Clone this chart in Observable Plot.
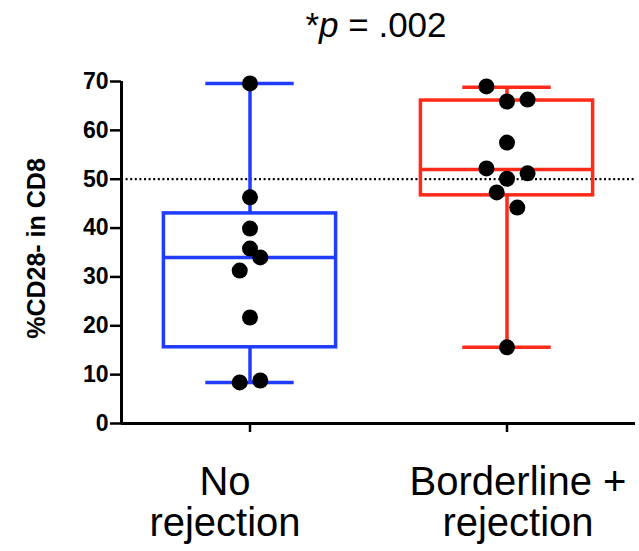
<!DOCTYPE html>
<html>
<head>
<meta charset="utf-8">
<script src="https://cdn.jsdelivr.net/npm/d3@7"></script>
<script src="https://cdn.jsdelivr.net/npm/@observablehq/plot@0.6"></script>
<style>
  html, body { margin: 0; padding: 0; background: #fff; }
  #title { width: 639px; height: 50px; line-height: 50px; font-family: "Liberation Sans", Arial, sans-serif; font-size: 35px; text-align: center; padding-left: 113px; box-sizing: border-box; color: #000; }
  svg text { font-family: "Liberation Sans", Arial, sans-serif; }
</style>
</head>
<body>
<div id="title">*<i>p</i> = .002</div>
<div id="chart"></div>
<script>
// Categories
const groups = ["No\nrejection", "Borderline +\nrejection"];
const groupColors = ["#1f3cff", "#ff2a1a"];

// Individual values and horizontal jitter offsets
const noRejectionValues = [69.6, 46.3, 39.9, 35.8, 34.0, 31.3, 21.7, 8.4, 8.8];
const noRejectionOffsets = [0, 0, 0, 0, 0.04, -0.04, 0, -0.04, 0.04];
const borderlineValues = [69.0, 65.9, 66.3, 57.5, 52.2, 51.2, 50.1, 47.3, 44.2, 15.6];
const borderlineOffsets = [-0.08, 0, 0.08, 0, -0.08, 0.08, 0, -0.04, 0.04, 0];

// Box summaries (min-max whiskers)
const mins = [8.4, 15.6];
const q1s = [15.6, 46.7];
const medians = [34.0, 52.0];
const q3s = [43.0, 66.1];
const maxs = [69.6, 68.8];

// Reference line and ticks
const threshold = 50;
const yTicks = [0, 10, 20, 30, 40, 50, 60, 70];
const xTicks = [0, 1];

const points = [
  ...noRejectionValues.map((v, i) => ({g: 0, x: 0 + noRejectionOffsets[i], y: v})),
  ...borderlineValues.map((v, i) => ({g: 1, x: 1 + borderlineOffsets[i], y: v}))
];
const boxes = groups.map((name, i) => ({
  i, name, color: groupColors[i],
  min: mins[i], q1: q1s[i], median: medians[i], q3: q3s[i], max: maxs[i]
}));

const boxHalf = 0.335, capHalf = 0.172;
const sw = 3.5;

const chart = Plot.plot({
  width: 639,
  height: 501,
  marginTop: 31,
  marginBottom: 128,
  marginLeft: 121,
  marginRight: 4,
  x: {type: "linear", domain: [-0.5, 1.5], axis: null},
  y: {type: "linear", domain: [0, 70], axis: null},
  marks: [
    // reference line
    Plot.ruleY([threshold], {x1: -0.5, x2: 1.5, stroke: "#000", strokeWidth: 2.2, strokeDasharray: "2,2.6"}),
    // whiskers
    Plot.ruleX(boxes, {x: "i", y1: "min", y2: "q1", stroke: "color", strokeWidth: sw}),
    Plot.ruleX(boxes, {x: "i", y1: "q3", y2: "max", stroke: "color", strokeWidth: sw}),
    // caps
    Plot.ruleY(boxes, {y: "min", x1: d => d.i - capHalf, x2: d => d.i + capHalf, stroke: "color", strokeWidth: sw}),
    Plot.ruleY(boxes, {y: "max", x1: d => d.i - capHalf, x2: d => d.i + capHalf, stroke: "color", strokeWidth: sw}),
    // boxes
    Plot.rect(boxes, {x1: d => d.i - boxHalf, x2: d => d.i + boxHalf, y1: "q1", y2: "q3", fill: "none", stroke: "color", strokeWidth: sw}),
    // medians
    Plot.ruleY(boxes, {y: "median", x1: d => d.i - boxHalf, x2: d => d.i + boxHalf, stroke: "color", strokeWidth: sw}),
    // points
    Plot.dot(points, {x: "x", y: "y", r: 8, fill: "#000", stroke: "none"}),
    // axes
    Plot.axisY({ticks: yTicks, tickSize: 11, tickPadding: 2, fontSize: 23, fontWeight: "bold", strokeWidth: 2.5, color: "#000"}),
    Plot.axisX({ticks: xTicks, tickSize: 9, tickFormat: () => "", strokeWidth: 2.5, color: "#000"}),
    Plot.ruleX([-0.5], {y1: 0, y2: 70, stroke: "#000", strokeWidth: 3}),
    Plot.ruleY([0], {x1: -0.5, x2: 1.5, stroke: "#000", strokeWidth: 3}),
    Plot.text([groups[0]], {x: 0, y: 0, dx: -25, dy: 42, lineAnchor: "top", fontSize: 40, lineHeight: 1.03, fill: "#000"}),
    Plot.text([groups[1]], {x: 1, y: 0, dx: 11, dy: 42, lineAnchor: "top", fontSize: 40, lineHeight: 1.03, fill: "#000"}),
    Plot.text(["%CD28- in CD8"], {frameAnchor: "left", textAnchor: "middle", rotate: -90, dx: -85, dy: -4, fontSize: 25, fontWeight: "bold", fill: "#000"})
  ]
});
document.getElementById("chart").appendChild(chart);
</script>
</body>
</html>
